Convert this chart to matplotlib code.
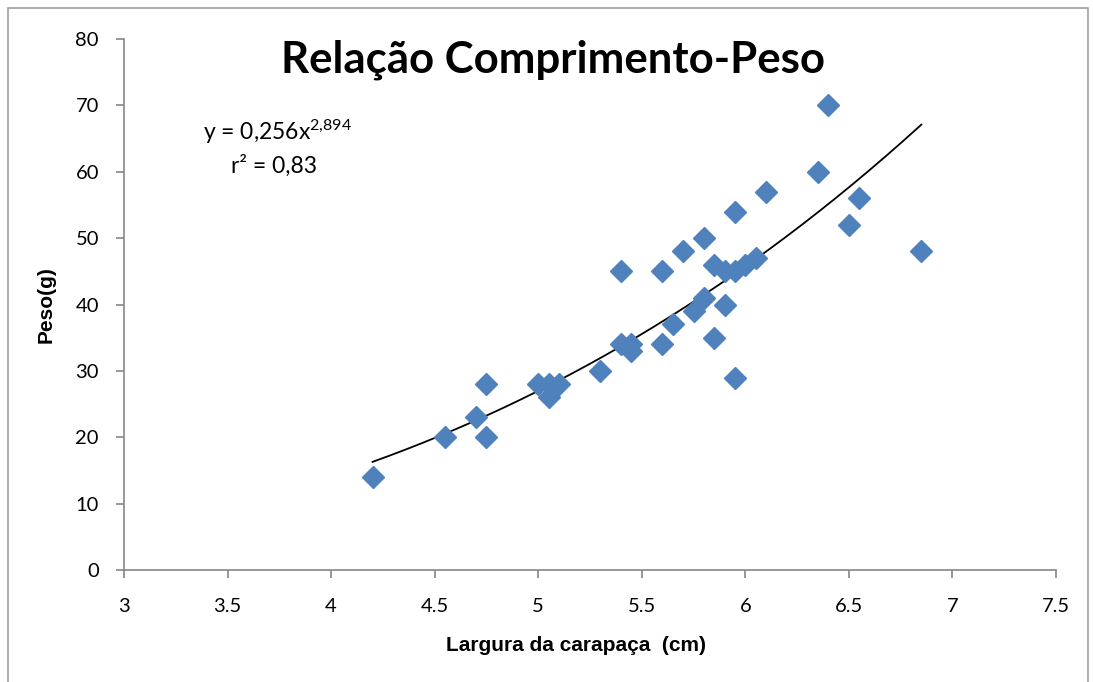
import matplotlib
matplotlib.use('Agg')
import matplotlib.pyplot as plt
import numpy as np

plt.rcParams['mathtext.fontset'] = 'custom'
plt.rcParams['mathtext.rm'] = 'Lato'
plt.rcParams['mathtext.it'] = 'Lato'

# largura da carapaca (cm) e peso (g)
largura = [4.2, 4.55, 4.7, 4.75, 4.75, 5.0, 5.05, 5.05, 5.1, 5.3,
           5.4, 5.4, 5.45, 5.45, 5.6, 5.6, 5.65, 5.7, 5.75, 5.8,
           5.8, 5.85, 5.85, 5.9, 5.9, 5.95, 5.95, 5.95, 6.0, 6.05,
           6.1, 6.35, 6.4, 6.5, 6.55, 6.85]
peso = [14, 20, 23, 28, 20, 28, 28, 26, 28, 30,
        45, 34, 34, 33, 45, 34, 37, 48, 39, 50,
        41, 46, 35, 45, 40, 54, 45, 29, 46, 47,
        57, 60, 70, 52, 56, 48]

# linha de tendencia potencia y = a*x^b
coef_a = 0.256
coef_b = 2.894
x_ticks = [3, 3.5, 4, 4.5, 5, 5.5, 6, 6.5, 7, 7.5]
x_ticklabels = ['3', '3.5', '4', '4.5', '5', '5.5', '6', '6.5', '7', '7.5']
y_ticks = [0, 10, 20, 30, 40, 50, 60, 70, 80]

W, H = 1093, 682
fig = plt.figure(figsize=(W/100, H/100), dpi=100)
ax = fig.add_axes([124/W, 1-570/H, (1056-124)/W, (570-39)/H])

ax.plot(largura, peso, ls='none', marker='D', markersize=11,
        color='#4F81BD', markeredgecolor='#4F81BD', zorder=3)

xs = np.linspace(min(largura), max(largura), 200)
ax.plot(xs, coef_a*xs**coef_b, color='black', lw=1.3, zorder=2)

ax.set_xlim(3, 7.5)
ax.set_ylim(0, 80)
ax.set_xticks(x_ticks)
ax.set_xticklabels(x_ticklabels)
ax.set_yticks(y_ticks)

for s in ['top', 'right']:
    ax.spines[s].set_visible(False)
for s in ['left', 'bottom']:
    ax.spines[s].set_color('#868686')
    ax.spines[s].set_linewidth(1.2)
ax.tick_params(direction='out', length=6, width=1.2, color='#868686',
               labelsize=14.5)
ax.tick_params(axis='x', pad=14)
ax.tick_params(axis='y', pad=12)
for lab in ax.get_xticklabels() + ax.get_yticklabels():
    lab.set_family('Lato')

ax.set_xlabel('Largura da carapaça  (cm)', fontsize=15, fontweight='bold',
              family='Liberation Sans')
ax.xaxis.set_label_coords(0.485, -0.125)
ax.set_ylabel('Peso(g)', fontsize=15, fontweight='bold',
              family='Liberation Sans', labelpad=14)

fig.text(553/W, 1-60/H, 'Relação Comprimento-Peso', fontsize=31.5,
         fontweight='bold', family='Lato', ha='center', va='center')

fig.text(203/W, 1-132/H, 'y = 0,256x$^{2{,}894}$',
         fontsize=16.5, family='Lato', ha='left', va='center')
fig.text(231/W, 1-166/H, 'r² = 0,83',
         fontsize=16.5, family='Lato', ha='left', va='center')

# moldura externa
fig.add_artist(plt.Rectangle((8/W, -0.05), (1088-8)/W, 1.05-8/H,
                             transform=fig.transFigure, fill=False,
                             edgecolor='#A0A0A0', lw=1.2))

fig.savefig('out.png', dpi=100)
